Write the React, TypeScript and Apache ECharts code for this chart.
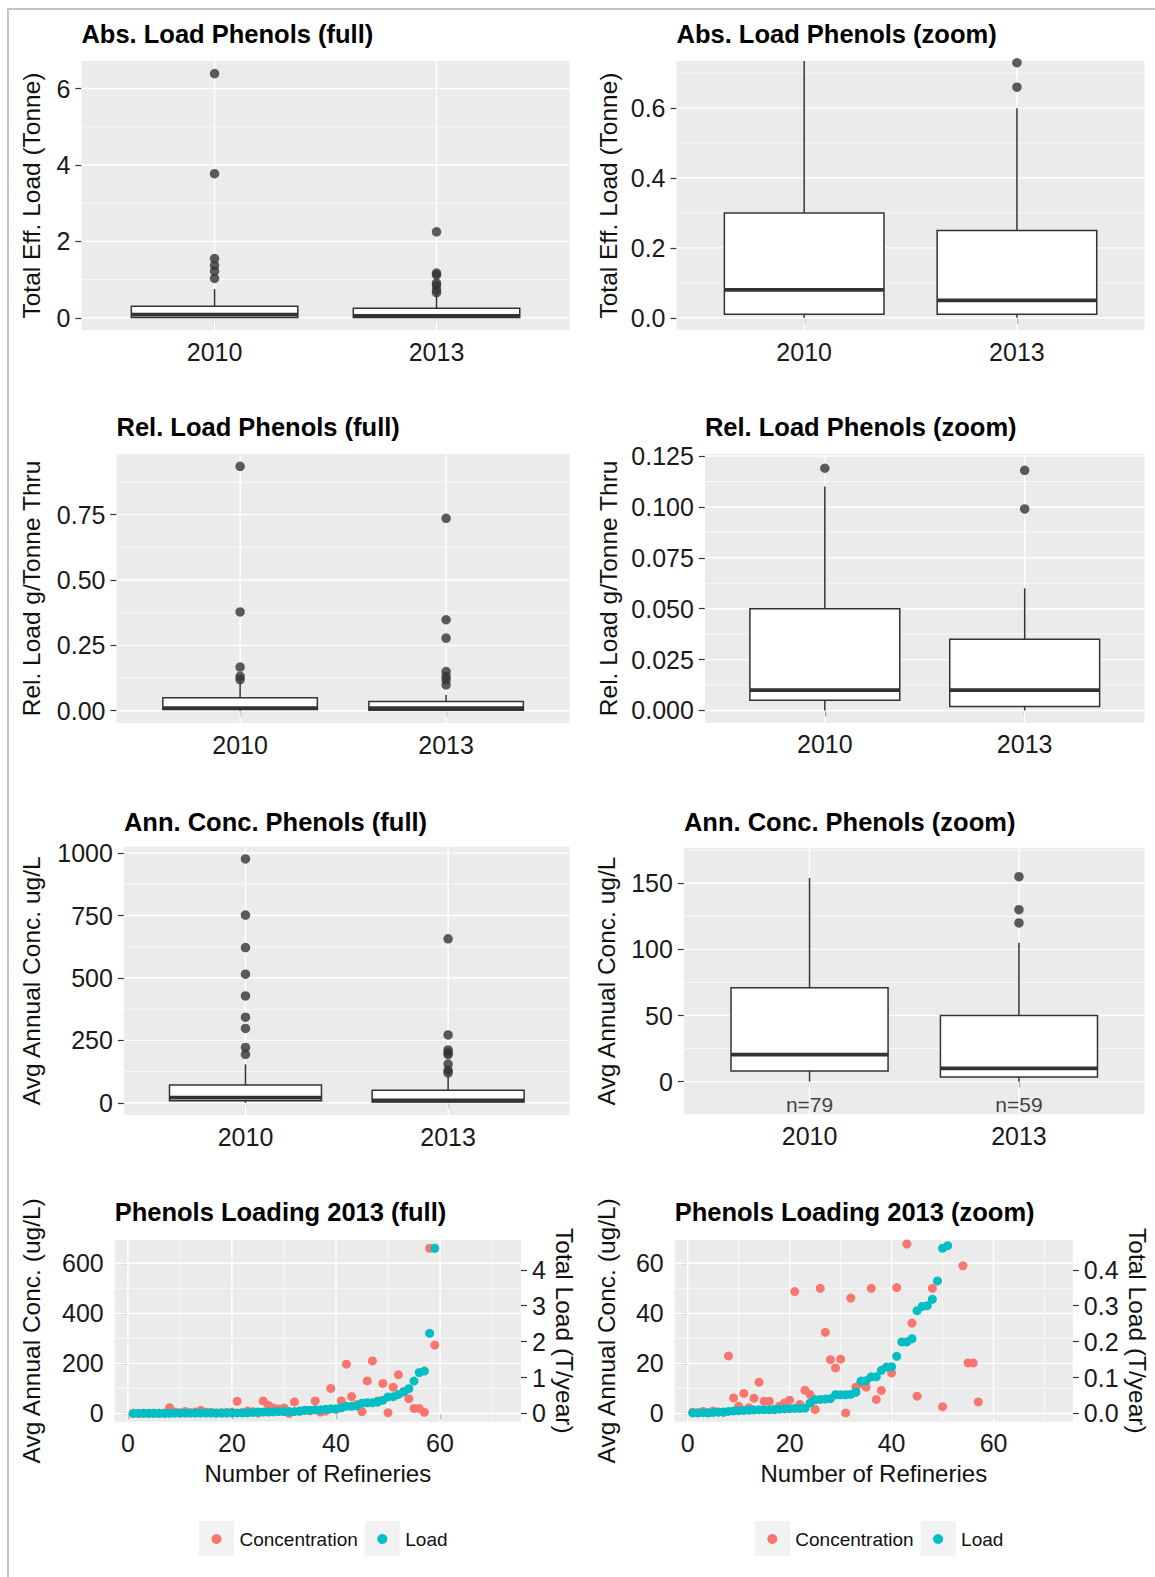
import React, { useEffect, useRef } from "react";
import * as echarts from "echarts";

const FONT = "'Liberation Sans', Arial, Helvetica, sans-serif";

// ---------------- data ----------------
const years = ["2010", "2013"];
const sampleSizes = [79, 59];

// box stats: [lower whisker, Q1, median, Q3, upper whisker]
const absLoadBox2010 = [0, 0.01, 0.08, 0.3, 0.75];
const absLoadBox2013 = [0, 0.01, 0.05, 0.25, 0.6];
const absLoadOut2010 = [6.39, 3.77, 1.55, 1.37, 1.22, 1.03];
const absLoadOut2013 = [2.25, 1.17, 1.12, 0.91, 0.85, 0.73, 0.66];

const relLoadBox2010 = [0, 0.005, 0.01, 0.05, 0.11];
const relLoadBox2013 = [0, 0.002, 0.01, 0.035, 0.06];
const relLoadOut2010 = [0.935, 0.378, 0.167, 0.131, 0.119];
const relLoadOut2013 = [0.736, 0.348, 0.278, 0.15, 0.131, 0.118, 0.099];

const concBox2010 = [0, 8, 20.5, 71, 154];
const concBox2013 = [0, 3.5, 10, 50, 105];
const concOut2010 = [977, 752, 622, 515, 428, 343, 298, 222, 194];
const concOut2013 = [657, 272, 212, 200, 193, 155, 130, 120];

// refineries 1..59 (sorted by load)
const refineryConc2013 = [
  0.5, 0.3, 0.8, 0.2, 1.0, 0.6, 0.4, 23, 6.2, 2.9,
  8.0, 2.3, 6.1, 12.5, 4.9, 4.9, 1.5, 2.9, 4.2, 5.3,
  48.7, 3.6, 9.3, 7.6, 1.6, 50, 32.4, 21.5, 18.2, 21.7,
  0.2, 46.1, 10.5, 12, 10.5, 50, 5.6, 9.2, 100, 16.2,
  50.3, 197, 67.7, 36.1, 6.9, 130, 210, 50, 120, 2.7,
  105, 155, 88, 59, 20.2, 20.2, 4.6, 660, 273,
];
const refineryLoad2013 = [
  0.0014, 0.0014, 0.0021, 0.0021, 0.0028, 0.0035, 0.0042, 0.0056, 0.007, 0.0077,
  0.0084, 0.0091, 0.0098, 0.0105, 0.0105, 0.0105, 0.0111, 0.0118, 0.0125, 0.0132,
  0.0139, 0.0139, 0.0146, 0.029, 0.038, 0.039, 0.04, 0.041, 0.052, 0.052,
  0.052, 0.053, 0.059, 0.09, 0.091, 0.102, 0.102, 0.12, 0.129, 0.13,
  0.159, 0.199, 0.199, 0.208, 0.286, 0.298, 0.3, 0.318, 0.369, 0.46,
  0.467, 0.53, 0.6, 0.69, 0.9, 1.14, 1.18, 2.23, 4.6,
];

// tick labels
const absFullTicks = [0, 2, 4, 6];
const absFullMinor = [1, 3, 5];
const absZoomTicks = [0, 0.2, 0.4, 0.6];
const absZoomMinor = [0.1, 0.3, 0.5, 0.7];
const relFullTicks = [0, 0.25, 0.5, 0.75];
const relFullMinor = [0.125, 0.375, 0.625, 0.875];
const relZoomTicks = [0, 0.025, 0.05, 0.075, 0.1, 0.125];
const relZoomMinor = [0.0125, 0.0375, 0.0625, 0.0875, 0.1125];
const concFullTicks = [0, 250, 500, 750, 1000];
const concFullMinor = [125, 375, 625, 875];
const concZoomTicks = [0, 50, 100, 150];
const concZoomMinor = [25, 75, 125, 175];
const refineryTicks = [0, 20, 40, 60];
const refineryMinor = [10, 30, 50, 70];
const scConcFullTicks = [0, 200, 400, 600];
const scConcFullMinor = [100, 300, 500];
const scLoadFullTicks = [0, 1, 2, 3, 4];
const scConcZoomTicks = [0, 20, 40, 60];
const scConcZoomMinor = [10, 30, 50];
const scLoadZoomTicks = [0, 0.1, 0.2, 0.3, 0.4];

// secondary axis factor (conc units per T/year)
const SEC = 143.5;

// ---------------- layout ----------------
const boxPanels = [
  { title: "Abs. Load Phenols (full)", yName: "Total Eff. Load (Tonne)", grid: { left: 81.4, top: 61, width: 488.3, height: 269 }, titleTop: 20.5, yMin: -0.32, yMax: 6.72, yTicks: absFullTicks, yMinor: absFullMinor, dec: 0, nameGap: 37.5, boxes: [absLoadBox2010, absLoadBox2013], outliers: [absLoadOut2010, absLoadOut2013] },
  { title: "Abs. Load Phenols (zoom)", yName: "Total Eff. Load (Tonne)", grid: { left: 676.5, top: 61, width: 468.1, height: 269 }, titleTop: 20.5, yMin: -0.035, yMax: 0.735, yTicks: absZoomTicks, yMinor: absZoomMinor, dec: 1, nameGap: 56, boxes: [absLoadBox2010, absLoadBox2013], outliers: [absLoadOut2010, absLoadOut2013] },
  { title: "Rel. Load Phenols (full)", yName: "Rel. Load g/Tonne Thru", grid: { left: 116.5, top: 454, width: 453.2, height: 269 }, titleTop: 414.2, yMin: -0.047, yMax: 0.982, yTicks: relFullTicks, yMinor: relFullMinor, dec: 2, nameGap: 72.5, boxes: [relLoadBox2010, relLoadBox2013], outliers: [relLoadOut2010, relLoadOut2013] },
  { title: "Rel. Load Phenols (zoom)", yName: "Rel. Load g/Tonne Thru", grid: { left: 704.9, top: 454, width: 439.7, height: 268.7 }, titleTop: 414.2, yMin: -0.006, yMax: 0.126, yTicks: relZoomTicks, yMinor: relZoomMinor, dec: 3, nameGap: 84, boxes: [relLoadBox2010, relLoadBox2013], outliers: [relLoadOut2010, relLoadOut2013] },
  { title: "Ann. Conc. Phenols (full)", yName: "Avg Annual Conc. ug/L", grid: { left: 123.9, top: 846.7, width: 445.8, height: 268.3 }, titleTop: 809.2, yMin: -48.85, yMax: 1025.85, yTicks: concFullTicks, yMinor: concFullMinor, dec: 0, nameGap: 80, boxes: [concBox2010, concBox2013], outliers: [concOut2010, concOut2013] },
  { title: "Ann. Conc. Phenols (zoom)", yName: "Avg Annual Conc. ug/L", grid: { left: 683.9, top: 847.7, width: 460.7, height: 266.6 }, titleTop: 809.2, yMin: -24.7, yMax: 176.9, yTicks: concZoomTicks, yMinor: concZoomMinor, dec: 0, nameGap: 65, boxes: [concBox2010, concBox2013], outliers: [concOut2010, concOut2013], showN: true },
];

const scatterPanels = [
  { title: "Phenols Loading 2013 (full)", grid: { left: 114.7, top: 1240, width: 406.2, height: 181.7 }, titleTop: 1199.2, yMin: -33, yMax: 693, yTicks: scConcFullTicks, yMinor: scConcFullMinor, rTicks: scLoadFullTicks, rDec: 0, nameGap: 71, rNameGap: 31, legendLeft: 211.5 },
  { title: "Phenols Loading 2013 (zoom)", grid: { left: 674.7, top: 1240, width: 398.1, height: 181.7 }, titleTop: 1199.2, yMin: -3.3, yMax: 69.3, yTicks: scConcZoomTicks, yMinor: scConcZoomMinor, rTicks: scLoadZoomTicks, rDec: 1, nameGap: 56, rNameGap: 52, legendLeft: 767.3 },
];

const legendKeyXs = [199, 364.6, 755, 920.7];

const TEXT = "#111";
const axisLabelBase = { color: "#1a1a1a", fontSize: 25, fontFamily: FONT };
const nameStyle = { fontSize: 24.5, color: TEXT, fontFamily: FONT };
const tickBase = { show: true, length: 6, lineStyle: { color: "#333", width: 1.2 } };
const titleStyle = { fontSize: 25.5, fontWeight: "bold", color: "#000", fontFamily: FONT };

function gridLineSeries(xi: number, yi: number, hMajor: number[], hMinor: number[], vMajor: number[], vMinor: number[]) {
  const data = [
    ...hMinor.map((v) => [0, v, 0]),
    ...vMinor.map((v) => [1, v, 0]),
    ...hMajor.map((v) => [0, v, 1]),
    ...vMajor.map((v) => [1, v, 1]),
  ];
  return {
    type: "custom",
    xAxisIndex: xi,
    yAxisIndex: yi,
    z: 1,
    silent: true,
    data,
    renderItem: (params: any, api: any) => {
      const kind = api.value(0);
      const v = api.value(1);
      const major = api.value(2);
      const cs = params.coordSys;
      const style = { stroke: "#ffffff", lineWidth: major ? 1.4 : 0.7 };
      if (kind === 0) {
        const y = api.coord([0, v])[1];
        return { type: "line", shape: { x1: cs.x, y1: y, x2: cs.x + cs.width, y2: y }, style };
      }
      const x = api.coord([v, 0])[0];
      return { type: "line", shape: { x1: x, y1: cs.y, x2: x, y2: cs.y + cs.height }, style };
    },
  };
}

function boxSeries(xi: number, yi: number, boxes: number[][]) {
  return {
    type: "custom",
    xAxisIndex: xi,
    yAxisIndex: yi,
    z: 3,
    silent: true,
    data: boxes.map((b, k) => [k + 1, ...b]),
    renderItem: (params: any, api: any) => {
      const x = api.value(0);
      const lo = api.value(1), q1 = api.value(2), med = api.value(3), q3 = api.value(4), hi = api.value(5);
      const cs = params.coordSys;
      const cy = (v: number) => {
        const y = api.coord([x, v])[1];
        return Math.max(cs.y, Math.min(cs.y + cs.height, y));
      };
      const xl = api.coord([x - 0.375, 0])[0];
      const xr = api.coord([x + 0.375, 0])[0];
      const xc = api.coord([x, 0])[0];
      const ln = { stroke: "#333333", lineWidth: 1.5 };
      return {
        type: "group",
        children: [
          { type: "line", shape: { x1: xc, y1: cy(hi), x2: xc, y2: cy(q3) }, style: ln },
          { type: "line", shape: { x1: xc, y1: cy(q1), x2: xc, y2: cy(lo) }, style: ln },
          { type: "rect", shape: { x: xl, y: cy(q3), width: xr - xl, height: cy(q1) - cy(q3) }, style: { fill: "#ffffff", stroke: "#333333", lineWidth: 1.5 } },
          { type: "line", shape: { x1: xl, y1: cy(med), x2: xr, y2: cy(med) }, style: { stroke: "#333333", lineWidth: 3.8 } },
        ],
      };
    },
  };
}

function buildOption() {
  const grid: any[] = [];
  const xAxis: any[] = [];
  const yAxis: any[] = [];
  const series: any[] = [];
  const title: any[] = [];
  const legend: any[] = [];

  const gridBase = { show: true, backgroundColor: "#EBEBEB", borderWidth: 0, containLabel: false, outerBoundsMode: "none" };

  boxPanels.forEach((p) => {
    const gi = grid.length;
    grid.push({ ...gridBase, ...p.grid });
    const xi = xAxis.length;
    xAxis.push({
      type: "value", gridIndex: gi, min: 0.4, max: 2.6,
      axisLine: { show: false }, splitLine: { show: false }, minorTick: { show: false },
      axisTick: { ...tickBase, customValues: [1, 2] },
      axisLabel: { ...axisLabelBase, margin: 9, customValues: [1, 2], formatter: (v: any) => years[Math.round(Number(v)) - 1] || "" },
    });
    const yi = yAxis.length;
    yAxis.push({
      type: "value", gridIndex: gi, min: p.yMin, max: p.yMax,
      name: p.yName, nameLocation: "middle", nameGap: p.nameGap, nameRotate: 90, nameMoveOverlap: false, nameTextStyle: nameStyle,
      axisLine: { show: false }, splitLine: { show: false }, minorTick: { show: false },
      axisTick: { ...tickBase, customValues: p.yTicks },
      axisLabel: { ...axisLabelBase, margin: 11, customValues: p.yTicks, formatter: (v: any) => Number(v).toFixed(p.dec) },
    });
    series.push(gridLineSeries(xi, yi, p.yTicks, p.yMinor, [1, 2], []));
    series.push(boxSeries(xi, yi, p.boxes));
    const outData: number[][] = [];
    p.outliers.forEach((arr, k) => arr.forEach((v) => { if (v >= p.yMin && v <= p.yMax) outData.push([k + 1, v]); }));
    series.push({ type: "scatter", xAxisIndex: xi, yAxisIndex: yi, data: outData, symbolSize: 9.5, itemStyle: { color: "#333333" }, z: 4, silent: true });
    if (p.showN) {
      series.push({
        type: "scatter", xAxisIndex: xi, yAxisIndex: yi, z: 5, silent: true,
        data: sampleSizes.map((n, k) => [k + 1, -17.6, n]),
        symbolSize: 1, itemStyle: { color: "rgba(0,0,0,0)" },
        label: { show: true, position: "inside", fontSize: 21, color: TEXT, fontFamily: FONT, formatter: (q: any) => "n=" + q.data[2] },
      });
    }
    title.push({ text: p.title, left: p.grid.left, top: p.titleTop, padding: 0, textStyle: titleStyle });
  });

  scatterPanels.forEach((p) => {
    const gi = grid.length;
    grid.push({ ...gridBase, ...p.grid });
    const xi = xAxis.length;
    xAxis.push({
      type: "value", gridIndex: gi, min: -2.55, max: 75.55,
      name: "Number of Refineries", nameLocation: "middle", nameGap: 39.6, nameMoveOverlap: false, nameTextStyle: { ...nameStyle, fontSize: 24 },
      axisLine: { show: false }, splitLine: { show: false }, minorTick: { show: false },
      axisTick: { ...tickBase, customValues: refineryTicks },
      axisLabel: { ...axisLabelBase, margin: 9, customValues: refineryTicks, formatter: (v: any) => String(Number(v)) },
    });
    const yi = yAxis.length;
    yAxis.push({
      type: "value", gridIndex: gi, position: "left", min: p.yMin, max: p.yMax,
      name: "Avg Annual Conc. (ug/L)", nameLocation: "middle", nameGap: p.nameGap, nameRotate: 90, nameMoveOverlap: false, nameTextStyle: nameStyle,
      axisLine: { show: false }, splitLine: { show: false }, minorTick: { show: false },
      axisTick: { ...tickBase, customValues: p.yTicks },
      axisLabel: { ...axisLabelBase, margin: 11, customValues: p.yTicks, formatter: (v: any) => String(Number(v)) },
    });
    const ri = yAxis.length;
    yAxis.push({
      type: "value", gridIndex: gi, position: "right", min: p.yMin / SEC, max: p.yMax / SEC,
      name: "Total Load (T/year)", nameLocation: "middle", nameGap: p.rNameGap, nameRotate: -90, nameMoveOverlap: false, nameTextStyle: nameStyle,
      axisLine: { show: false }, splitLine: { show: false }, minorTick: { show: false },
      axisTick: { ...tickBase, customValues: p.rTicks },
      axisLabel: { ...axisLabelBase, margin: 11, customValues: p.rTicks, formatter: (v: any) => Number(v).toFixed(p.rDec) },
    });
    series.push(gridLineSeries(xi, yi, p.yTicks, p.yMinor, refineryTicks, refineryMinor));
    series.push({
      name: "Concentration", type: "scatter", xAxisIndex: xi, yAxisIndex: yi, z: 3, clip: true, silent: true,
      data: refineryConc2013.map((v, k) => [k + 1, v]).filter((d) => d[1] <= p.yMax),
      symbolSize: 9, itemStyle: { color: "#F8766D", opacity: 1 },
    });
    series.push({
      name: "Load", type: "scatter", xAxisIndex: xi, yAxisIndex: ri, z: 4, clip: true, silent: true,
      data: refineryLoad2013.map((v, k) => [k + 1, v]).filter((d) => d[1] <= p.yMax / SEC),
      symbolSize: 9, itemStyle: { color: "#00BFC4", opacity: 1 },
    });
    title.push({ text: p.title, left: p.grid.left, top: p.titleTop, padding: 0, textStyle: titleStyle });
    legend.push({
      left: p.legendLeft, top: 1529.5, orient: "horizontal", padding: 0, itemWidth: 10, itemHeight: 10, itemGap: 19.5,
      icon: "circle", selectedMode: false,
      textStyle: { fontSize: 19, color: TEXT, fontFamily: FONT, padding: [0, 0, 0, 13] },
      data: ["Concentration", "Load"],
    });
  });

  const graphic = legendKeyXs.map((x) => ({
    type: "rect", silent: true, z: 0,
    shape: { x, y: 1521, width: 35, height: 35 },
    style: { fill: "#F2F2F2" },
  }));

  return {
    animation: false,
    backgroundColor: "transparent",
    textStyle: { fontFamily: FONT },
    tooltip: { show: false },
    title, grid, xAxis, yAxis, series, legend, graphic,
  };
}

export default function App() {
  const ref = useRef<HTMLDivElement>(null);
  useEffect(() => {
    document.body.style.margin = "0";
    document.body.style.overflow = "hidden";
    const chart = echarts.init(ref.current as HTMLDivElement, null, { renderer: "svg" });
    chart.setOption(buildOption() as any);
    return () => chart.dispose();
  }, []);
  return (
    <div style={{ position: "absolute", left: 0, top: 0, width: 1155, height: 1577, background: "#ffffff", overflow: "hidden" }}>
      <div style={{ position: "absolute", left: 7, top: 7.5, width: 1160, height: 1580, borderTop: "2px solid #c4c4c4", borderLeft: "2px solid #c4c4c4" }} />
      <div ref={ref} style={{ position: "absolute", left: 0, top: 0, width: 1155, height: 1577 }} />
    </div>
  );
}
